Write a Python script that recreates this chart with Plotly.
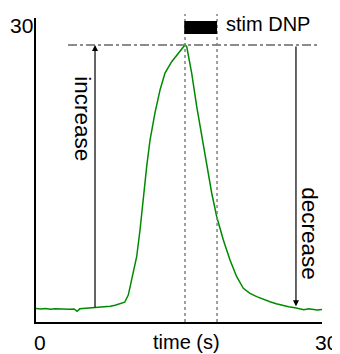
import plotly.graph_objects as go

# ---- data ----
time_s = [0, 0.5, 1.0, 1.5, 2.0, 2.5, 3.0, 3.5, 4.0, 4.3, 4.6, 5.0, 5.5, 6.0, 6.5,
          7.0, 7.5, 7.8, 8.3, 8.9, 9.3, 9.68, 10.21, 10.56, 10.91, 11.26, 11.61,
          11.96, 12.48, 13.01, 13.53, 14.23, 14.93, 15.45, 15.63, 15.81, 16.33,
          16.86, 17.38, 17.91, 18.43, 18.96, 19.65, 20.35, 21.05, 21.75, 22.4,
          23.15, 23.8, 24.55, 25.2, 25.94, 26.5, 27.17, 27.6, 28.1, 28.6, 29.09,
          29.5, 30.0]
signal = [1.32, 1.28, 1.33, 1.25, 1.30, 1.27, 1.31, 1.26, 1.29, 1.05, 1.30, 1.33,
          1.36, 1.38, 1.40, 1.45, 1.50, 1.55, 1.65, 1.80, 1.95, 2.66, 4.84, 6.44,
          9.08, 12.37, 15.33, 17.96, 20.63, 22.90, 24.57, 25.69, 26.52, 27.24,
          27.34, 27.17, 24.57, 21.25, 18.29, 15.33, 12.73, 10.39, 8.09, 6.12,
          4.47, 3.33, 2.85, 2.50, 2.25, 2.00, 1.80, 1.61, 1.50, 1.41, 1.33, 1.22,
          1.30, 1.25, 1.18, 1.24]

x_ticks = [0, 30]
x_tick_labels = ["0", "30"]
y_ticks = [30]
y_tick_labels = ["30"]

peak_value = 27.34
peak_time = 15.63
baseline_value = 1.30
end_value = 1.55
stim_start, stim_end = 15.55, 18.99
increase_time = 6.19
decrease_time = 27.27

font_family = "Liberation Sans, Arial, sans-serif"

fig = go.Figure()
fig.add_trace(go.Scatter(x=time_s, y=signal, mode="lines",
                         line=dict(color="#008a00", width=1.5),
                         hoverinfo="skip", showlegend=False))

shapes = []
# dash-dot peak line
shapes.append(dict(type="line", xref="x", yref="y", x0=3.36, x1=29.6,
                   y0=peak_value, y1=peak_value,
                   line=dict(color="#666666", width=1.5, dash="dashdot")))
# dotted stimulus lines
for t in (peak_time, stim_end):
    shapes.append(dict(type="line", xref="x", yref="paper", x0=t, x1=t,
                       y0=0, y1=1.013,
                       line=dict(color="#808080", width=1.5, dash="dot")))
# stimulus bar
shapes.append(dict(type="rect", xref="x", yref="y", x0=stim_start, x1=stim_end,
                   y0=28.42, y1=29.7, fillcolor="black", line=dict(width=0)))

annotations = []
# increase arrow
annotations.append(dict(x=increase_time, y=peak_value, ax=increase_time,
                        ay=baseline_value, xref="x", yref="y", axref="x",
                        ayref="y", text="", showarrow=True, arrowhead=2,
                        arrowsize=1, arrowwidth=1.2, arrowcolor="black"))
# decrease arrow
annotations.append(dict(x=decrease_time, y=end_value, ax=decrease_time,
                        ay=peak_value, xref="x", yref="y", axref="x",
                        ayref="y", text="", showarrow=True, arrowhead=2,
                        arrowsize=1, arrowwidth=1.2, arrowcolor="black"))
annotations.append(dict(x=4.93, y=20.1, xref="x", yref="y",
                        text="increase", textangle=90, showarrow=False,
                        font=dict(family=font_family, size=22.5, color="black")))
annotations.append(dict(x=28.67, y=8.73, xref="x", yref="y",
                        text="decrease", textangle=90, showarrow=False,
                        font=dict(family=font_family, size=22.5, color="black")))
annotations.append(dict(x=19.7, y=29.4, xref="x", yref="y", text="stim DNP",
                        xanchor="left", showarrow=False,
                        font=dict(family=font_family, size=20, color="black")))
annotations.append(dict(x=15.8, y=-0.066, xref="x", yref="paper",
                        text="time (s)", showarrow=False, yanchor="middle",
                        font=dict(family=font_family, size=20, color="black")))
# tick labels
for v, lab in zip(x_ticks, x_tick_labels):
    annotations.append(dict(x=v, y=-0.066, xref="x", yref="paper", text=lab,
                            showarrow=False, yanchor="middle",
                            xshift=4,
                            font=dict(family=font_family, size=21, color="black")))
for v, lab in zip(y_ticks, y_tick_labels):
    annotations.append(dict(x=0, y=v, xref="paper", yref="y", text=lab,
                            showarrow=False, xanchor="right", yanchor="middle",
                            xshift=-1, yshift=-7,
                            font=dict(family=font_family, size=21, color="black")))

fig.update_layout(
    width=340, height=354,
    margin=dict(l=28, r=26, t=10, b=40, autoexpand=False),
    paper_bgcolor="white", plot_bgcolor="white",
    shapes=shapes, annotations=annotations,
    xaxis=dict(range=[0, 30], showgrid=False, zeroline=False, showline=True,
               linecolor="black", linewidth=2, ticks="", showticklabels=False,
               automargin=False),
    yaxis=dict(range=[0, 30], showgrid=False, zeroline=False, showline=True,
               linecolor="black", linewidth=2, ticks="", showticklabels=False,
               automargin=False),
)

fig.write_html("out.html")
